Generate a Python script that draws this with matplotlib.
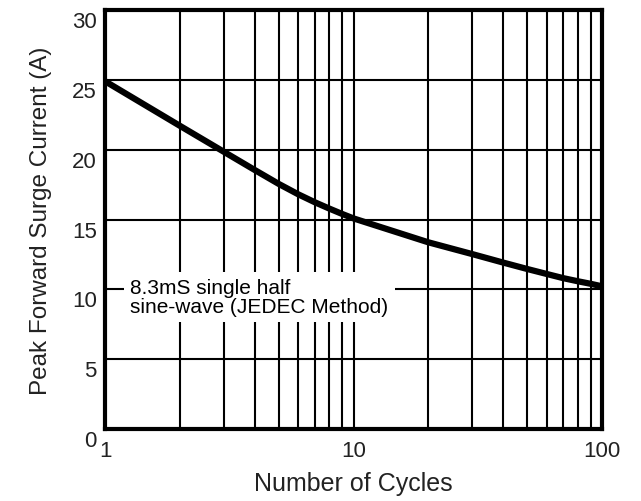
import numpy as np
import matplotlib
matplotlib.use("Agg")
import matplotlib.pyplot as plt
from matplotlib.transforms import ScaledTranslation

plt.rcParams['font.family'] = ['Liberation Sans', 'DejaVu Sans']

# surge curve
cycles = [1, 2, 3, 4, 5, 6, 7, 8, 9, 10, 20, 30, 40, 50, 60, 70, 80, 90, 100]
current = [24.9, 21.71, 19.86, 18.55, 17.55, 16.8, 16.23, 15.78, 15.4, 15.08,
           13.37, 12.53, 11.92, 11.46, 11.1, 10.8, 10.58, 10.4, 10.22]

x_ticks = [1, 10, 100]
x_ticklabels = ["1", "10", "100"]
y_ticks = [0, 5, 10, 15, 20, 25, 30]
y_ticklabels = ["0", "5", "10", "15", "20", "25", "30"]

note = "8.3mS single half\nsine-wave (JEDEC Method)"

fig = plt.figure(figsize=(6.41, 5.02), dpi=100)
ax = fig.add_axes([0.164, 0.1434, 0.775, 0.8346])

ax.set_xscale('log')
ax.set_xlim(1, 100)
ax.set_ylim(0, 30)

# grid: every minor decade line plus every 5 A
minor = [m * d for d in (1, 10) for m in range(2, 10)]
for xv in minor + [10]:
    ax.axvline(xv, color='black', lw=1.5, zorder=1)
for yv in y_ticks[1:-1]:
    ax.axhline(yv, color='black', lw=1.5, zorder=1)

ax.plot(cycles, current, color='black', lw=4.5, solid_capstyle='butt',
        solid_joinstyle='round', zorder=3)

ax.text(1.265, 9.45, note, fontsize=15, va='center', ha='left', linespacing=1.0,
        bbox=dict(boxstyle='square,pad=0.3', facecolor='white', edgecolor='none'),
        zorder=2)

ax.set_xticks(x_ticks)
ax.set_xticklabels(x_ticklabels)
ax.xaxis.set_minor_locator(plt.NullLocator())
ax.set_yticks(y_ticks)
ax.set_yticklabels(y_ticklabels)
ax.tick_params(length=0, labelsize=16, colors='#222222')
ax.tick_params(axis='x', pad=8)
ax.tick_params(axis='y', pad=6)
for lab in ax.get_yticklabels():
    lab.set_transform(lab.get_transform() + ScaledTranslation(0, -0.09, fig.dpi_scale_trans))

for sp in ax.spines.values():
    sp.set_linewidth(3)
    sp.set_zorder(4)

ax.set_xlabel("Number of Cycles", fontsize=18, color='#222222', labelpad=7)
ax.set_ylabel("Peak Forward Surge Current (A)", fontsize=17.5, color='#222222', labelpad=14)

fig.savefig("out.png", dpi=100)
